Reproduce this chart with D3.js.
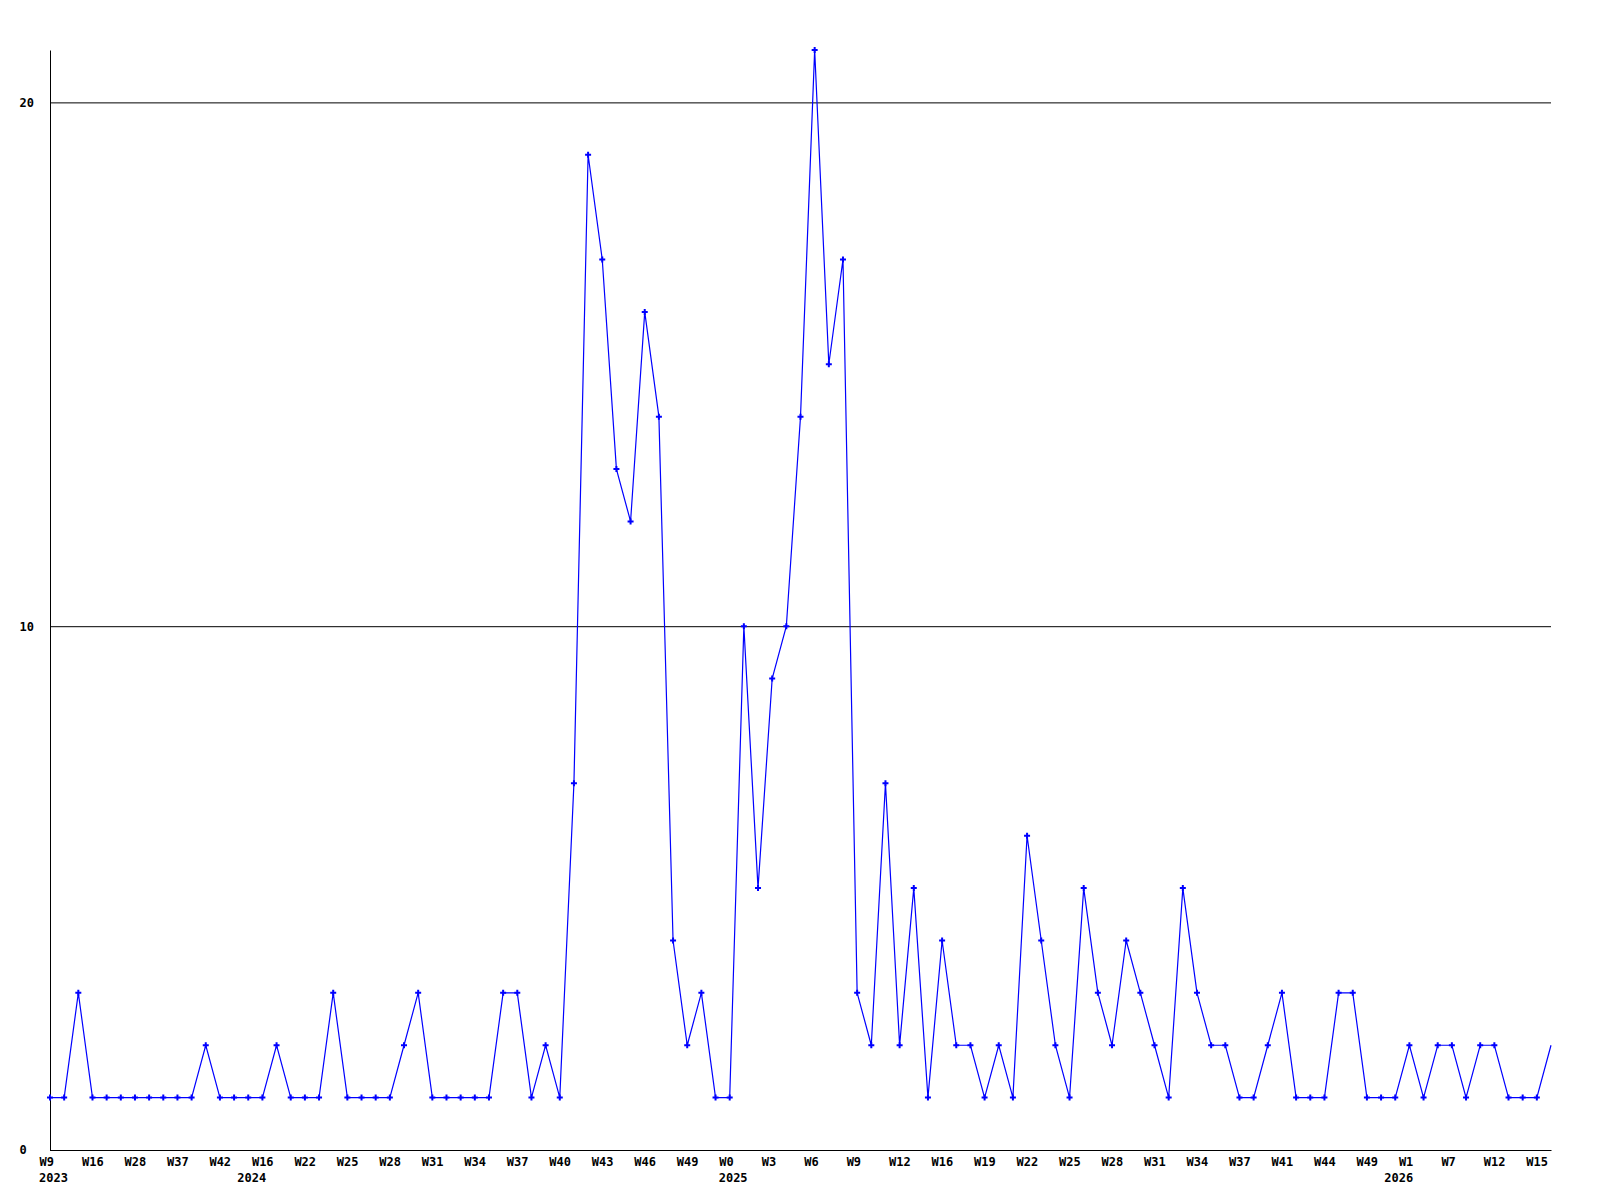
<!DOCTYPE html>
<html>
<head>
<meta charset="utf-8">
<script src="https://cdn.jsdelivr.net/npm/d3@7"></script>
<style>
    body { margin: 0; background: #ffffff; }
    svg text { font-family: "DejaVu Sans Mono", monospace; font-size: 12px; font-weight: bold; fill: #000000; }
</style>
</head>
<body>
<svg id="chartSVG" width="1600" height="1200"></svg>
<script>
//////////////////// DATA ////////////////////
// weekly counts, one per point
const counts = [
    1, 1, 3, 1, 1, 1, 1, 1, 1, 1,
    1, 2, 1, 1, 1, 1, 2, 1, 1, 1,
    3, 1, 1, 1, 1, 2, 3, 1, 1, 1,
    1, 1, 3, 3, 1, 2, 1, 7, 19, 17,
    13, 12, 16, 14, 4, 2, 3, 1, 1, 10,
    5, 9, 10, 14, 21, 15, 17, 3, 2, 7,
    2, 5, 1, 4, 2, 2, 1, 2, 1, 6,
    4, 2, 1, 5, 3, 2, 4, 3, 2, 1,
    5, 3, 2, 2, 1, 1, 2, 3, 1, 1,
    1, 3, 3, 1, 1, 1, 2, 1, 2, 2,
    1, 2, 2, 1, 1, 1, 2
];

// week labels, every third point
const weekLabels = [
    "W9", "W16", "W28", "W37", "W42", "W16", "W22", "W25", "W28", "W31",
    "W34", "W37", "W40", "W43", "W46", "W49", "W0", "W3", "W6", "W9",
    "W12", "W16", "W19", "W22", "W25", "W28", "W31", "W34", "W37", "W41",
    "W44", "W49", "W1", "W7", "W12", "W15"
];
const weekLabelStep = 3;

// year labels and the index of the first point of each year
const years = ["2023", "2024", "2025", "2026"];
const yearStarts = [0, 14, 48, 95];

// y ticks
const yTicks = [0, 10, 20];


//////////////////// SIZES ////////////////////
const sizes = {
    left: 50,
    right: 1551,
    top: 50,
    bottom: 1150
};

const svg = d3.select("#chartSVG");


//////////////////// SCALES ////////////////////
const xScale = d3.scaleLinear()
    .domain([0, counts.length - 1])
    .range([sizes.left, sizes.right]);

const yScale = d3.scaleLinear()
    .domain([0, 21])
    .range([sizes.bottom, sizes.top]);


//////////////////// AXES ////////////////////
// y-axis with grid lines
const yAxisGroup = svg.append("g")
    .attr("transform", `translate(${sizes.left}, 0)`)
    .call(d3.axisLeft(yScale)
        .tickValues(yTicks)
        .tickSizeInner(-(sizes.right - sizes.left))
        .tickSizeOuter(0)
        .tickFormat(d3.format("d")));

yAxisGroup.select(".domain").attr("stroke", "#000").attr("stroke-width", 1);
yAxisGroup.selectAll(".tick line").attr("stroke", "#000").attr("stroke-width", 1);
yAxisGroup.selectAll(".tick text")
    .attr("x", 19.5 - sizes.left)
    .attr("text-anchor", "start")
    .attr("fill", "#000");
yAxisGroup.attr("font-family", null).attr("font-size", null);

// x-axis with week labels
const xAxisGroup = svg.append("g")
    .attr("transform", `translate(0, ${sizes.bottom})`)
    .call(d3.axisBottom(xScale)
        .tickValues(weekLabels.map((d, i) => i * weekLabelStep))
        .tickSize(0)
        .tickFormat((d, i) => weekLabels[i]));

xAxisGroup.select(".domain").attr("stroke", "#000").attr("stroke-width", 1);
xAxisGroup.selectAll(".tick text")
    .attr("x", -11)
    .attr("y", 16)
    .attr("dy", 0)
    .attr("text-anchor", "start")
    .attr("fill", "#000");
xAxisGroup.attr("font-family", null).attr("font-size", null);

// year labels
svg.append("g")
    .selectAll("text")
    .data(years)
    .join("text")
    .attr("x", (d, i) => xScale(yearStarts[i]) - 11)
    .attr("y", sizes.bottom + 31.5)
    .text(d => d);


//////////////////// LINE ////////////////////
const line = d3.line()
    .x((d, i) => xScale(i))
    .y(d => yScale(d));

svg.append("path")
    .datum(counts)
    .attr("fill", "none")
    .attr("stroke", "#0000ff")
    .attr("stroke-width", 1.2)
    .attr("d", line);

// point markers (the last point has none)
svg.append("g")
    .selectAll("path")
    .data(counts.slice(0, -1))
    .join("path")
    .attr("transform", (d, i) => `translate(${xScale(i)}, ${yScale(d)})`)
    .attr("d", d3.symbol(d3.symbolCross, 20))
    .attr("fill", "#0000ff");
</script>
</body>
</html>
